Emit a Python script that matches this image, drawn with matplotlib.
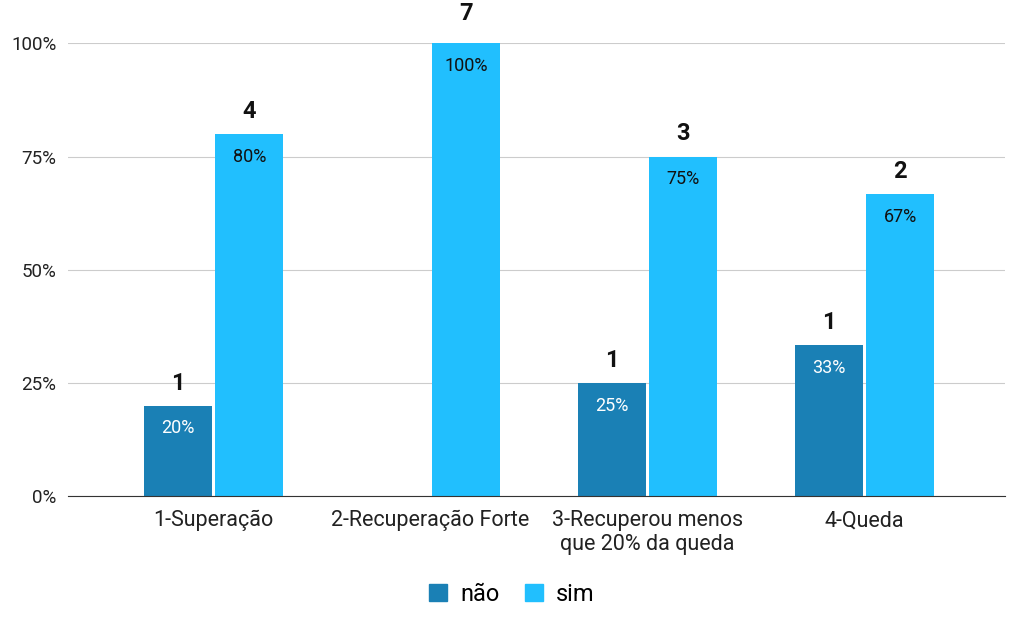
import numpy as np
import matplotlib
matplotlib.use('Agg')
from matplotlib import pyplot as plt
from matplotlib.patches import Patch

plt.rcParams['font.family'] = ['Roboto', 'DejaVu Sans']

# dados
categorias = ['1-Superação', '2-Recuperação Forte', '3-Recuperou menos\nque 20% da queda', '4-Queda']
nao_pct = [0.20, 0.0, 0.25, 1/3]
sim_pct = [0.80, 1.00, 0.75, 2/3]
nao_n = [1, None, 1, 1]
sim_n = [4, 7, 3, 2]
cor_nao = '#1a80b5'
cor_sim = '#21bffe'

fig = plt.figure(figsize=(10.24, 6.18), dpi=100)
ax = fig.add_axes([0.066, 0.197, 0.915, 0.733])

x = np.arange(len(categorias))
w = 0.313
off = 0.165

#barras
for i in range(len(categorias)):
    if nao_n[i] is not None:
        ax.bar(x[i] - off, nao_pct[i], w, color=cor_nao, zorder=3)
        ax.text(x[i] - off, nao_pct[i] - 0.05, '%d%%' % round(nao_pct[i]*100),
                ha='center', va='center', color='white', fontsize=13, zorder=4)
        ax.text(x[i] - off, nao_pct[i] + 0.05, str(nao_n[i]), ha='center', va='center',
                fontsize=17, fontweight='bold', color='#111111', clip_on=False)
    ax.bar(x[i] + off, sim_pct[i], w, color=cor_sim, zorder=3)
    ax.text(x[i] + off, sim_pct[i] - 0.05, '%d%%' % round(sim_pct[i]*100),
            ha='center', va='center', color='#111111', fontsize=13, zorder=4)
    ax.text(x[i] + off, sim_pct[i] + 0.05 + (0.015 if sim_pct[i] >= 1 else 0), str(sim_n[i]),
            ha='center', va='center', fontsize=17, fontweight='bold', color='#111111', clip_on=False)

ax.set_xlim(-0.673, 3.645)
ax.set_ylim(0, 1)
ax.set_yticks([0, 0.25, 0.5, 0.75, 1.0])
ax.set_yticklabels(['0%', '25%', '50%', '75%', '100%'])
ax.set_xticks(x)
ax.set_xticklabels(categorias, fontsize=15.5, linespacing=1.15)
ax.tick_params(axis='both', length=0, colors='#222222')
ax.tick_params(axis='y', labelsize=13.5, pad=8)
ax.tick_params(axis='x', pad=10)
ax.grid(axis='y', color='#cccccc', linewidth=0.8, zorder=0)
for s in ['top', 'right', 'left']:
    ax.spines[s].set_visible(False)
ax.spines['bottom'].set_color('#333333')
ax.spines['bottom'].set_zorder(5)

handles = [Patch(color=cor_nao, label='não'), Patch(color=cor_sim, label='sim')]
fig.legend(handles=handles, loc='center', bbox_to_anchor=(0.5, 0.038), ncol=2,
           frameon=False, fontsize=17, handlelength=0.75, handleheight=0.75,
           columnspacing=1.1, handletextpad=0.55)

fig.savefig('out.png', dpi=100, facecolor='white')
